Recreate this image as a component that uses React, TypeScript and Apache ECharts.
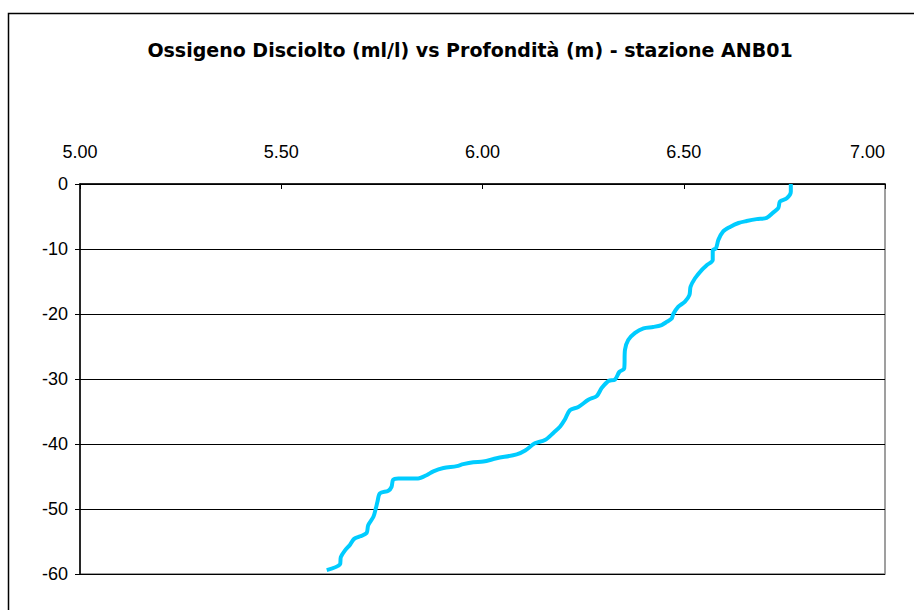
import React, { useEffect, useRef } from "react";
import * as echarts from "echarts";

const titleText = "Ossigeno Disciolto (ml/l) vs Profondità (m) - stazione ANB01";
const xTicks = [5.0, 5.5, 6.0, 6.5, 7.0];
const yTicks = [0, -10, -20, -30, -40, -50, -60];

const depth = [
  0, -1.2, -2.2, -2.7, -3.7, -4.4, -5.2, -5.4, -5.7, -6.0, -6.6, -7.3, -8.6, -9.9,
  -10.2, -11.7, -12.5, -13.2, -14.5, -15.8, -17.1, -18.1, -18.9, -20.0, -20.7, -21.2,
  -21.7, -22.0, -22.2, -22.9, -24.0, -25.5, -28.4, -28.9, -30.1, -30.3, -31.4, -32.6,
  -33.2, -34.3, -34.8, -36.2, -37.3, -38.3, -39.4, -39.9, -41.0, -41.6, -42.2, -42.7,
  -42.8, -43.1, -43.4, -43.7, -44.2, -44.8, -45.3, -45.3, -45.5, -46.6, -47.2, -47.6,
  -48.9, -49.9, -51.2, -52.5, -53.7, -54.2, -54.6, -55.5, -56.4, -57.4, -58.5, -59.4,
];
const oxygen = [
  6.766, 6.766, 6.756, 6.739, 6.735, 6.722, 6.706, 6.681, 6.656, 6.636, 6.615, 6.598, 6.586, 6.58,
  6.572, 6.572, 6.557, 6.545, 6.528, 6.517, 6.514, 6.503, 6.486, 6.474, 6.47, 6.458,
  6.445, 6.424, 6.4, 6.379, 6.362, 6.354, 6.352, 6.34, 6.329, 6.313, 6.296, 6.284,
  6.263, 6.238, 6.217, 6.205, 6.193, 6.176, 6.155, 6.13, 6.106, 6.085, 6.035, 6.002,
  5.977, 5.952, 5.936, 5.903, 5.878, 5.861, 5.84, 5.791, 5.778, 5.774, 5.766, 5.745,
  5.739, 5.735, 5.729, 5.716, 5.712, 5.696, 5.681, 5.671, 5.658, 5.648, 5.646, 5.613,
];

const TITLE_FONT = "DejaVu Sans, Liberation Sans, Arial, sans-serif";
const TICK_FONT = "Liberation Sans, Arial, sans-serif";

export default function App() {
  const ref = useRef<HTMLDivElement>(null);
  useEffect(() => {
    if (!ref.current) return;
    const chart = echarts.init(ref.current, null, { renderer: "svg" });
    const data = oxygen.map((o, i) => [o, depth[i]]);
    chart.setOption({
      animation: false,
      backgroundColor: "#ffffff",
      textStyle: { fontFamily: TICK_FONT },
      title: {
        text: titleText,
        left: 465,
        top: 35,
        textAlign: "center",
        textStyle: { fontSize: 19, fontWeight: "bold", color: "#000", fontFamily: TITLE_FONT },
      },
      graphic: [
        {
          type: "rect",
          shape: { x: 8.5, y: 13.5, width: 930, height: 620 },
          style: { fill: "none", stroke: "#000", lineWidth: 1.5 },
          silent: true,
          z: 0,
        },
      ],
      grid: {
        left: 80,
        right: 29,
        top: 184,
        bottom: 36,
        show: true,
        borderColor: "#808080",
        borderWidth: 1.5,
        backgroundColor: "transparent",
      },
      xAxis: {
        type: "value",
        position: "top",
        min: xTicks[0],
        max: xTicks[xTicks.length - 1],
        interval: 0.5,
        axisLine: { show: true, lineStyle: { color: "#000", width: 1.5 } },
        axisTick: { show: true, inside: true, length: 5, lineStyle: { color: "#000" } },
        splitLine: { show: false },
        axisLabel: {
          formatter: (v: number) => v.toFixed(2),
          fontSize: 18,
          color: "#000",
          margin: 23,
          alignMaxLabel: "right",
        },
      },
      yAxis: {
        type: "value",
        min: yTicks[yTicks.length - 1],
        max: yTicks[0],
        interval: 10,
        axisLine: { show: true, lineStyle: { color: "#000", width: 1.5 } },
        axisTick: { show: true, inside: false, length: 5, lineStyle: { color: "#000" } },
        splitLine: { show: true, lineStyle: { color: "#000", width: 1 } },
        axisLabel: {
          formatter: (v: number) => String(v),
          fontSize: 18,
          color: "#000",
          margin: 12,
        },
      },
      series: [
        {
          type: "line",
          data,
          showSymbol: false,
          smooth: 0.3,
          lineStyle: { color: "#00CCFF", width: 4 },
          z: 5,
        },
      ],
    });
    return () => chart.dispose();
  }, []);
  return <div ref={ref} style={{ position: "fixed", left: 0, top: 0, width: 914, height: 610 }} />;
}
